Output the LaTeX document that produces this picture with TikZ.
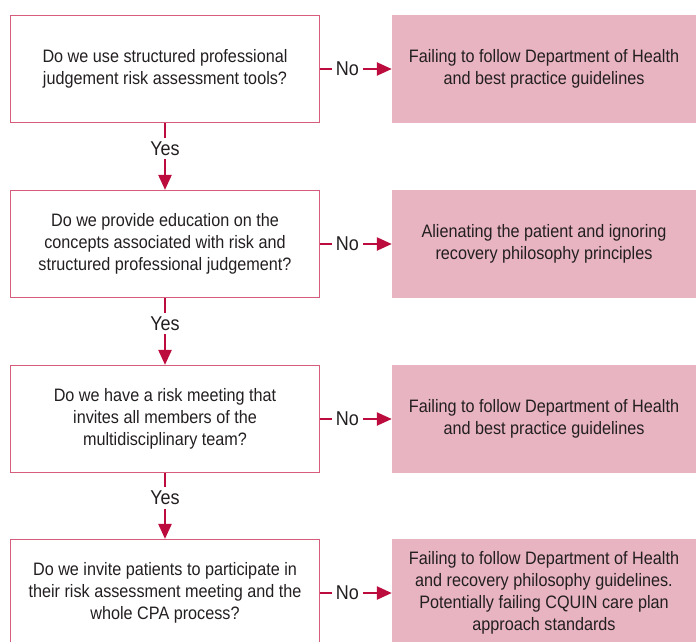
\documentclass[tikz,border=0pt]{standalone}
\usepackage{fontspec}
\setmainfont{Liberation Sans}[FakeStretch=0.9]
\usepackage{tikz}
\usetikzlibrary{arrows.meta}

\definecolor{qline}{RGB}{214,92,124}
\definecolor{arrowred}{RGB}{188,12,62}
\definecolor{outfill}{RGB}{232,180,194}
\definecolor{textgrey}{RGB}{35,31,32}

\begin{document}
\begin{tikzpicture}
[x=1pt,y=-1pt,
 font=\fontsize{18}{22}\selectfont,
 text=textgrey,
 qbox/.style={draw=qline,line width=1.2pt,minimum width=309pt,minimum height=107pt,
   align=center,inner sep=0pt},
 obox/.style={fill=outfill,minimum width=304pt,minimum height=108pt,
   align=center,inner sep=0pt},
 be/.style={draw=arrowred,line width=2.4pt,arrows={-Triangle[length=15pt,width=13pt]}},
 lab/.style={fill=white,inner sep=4pt,pos=0.38,font=\fontsize{20}{22}\selectfont}]
\useasboundingbox (0,0) rectangle (696,641);

\node[qbox] (Q1) at (165,69) {Do we use structured professional\\judgement risk assessment tools?};
\node[qbox] (Q2) at (165,244) {Do we provide education on the\\concepts associated with risk and\\structured professional judgement?};
\node[qbox] (Q3) at (165,419) {Do we have a risk meeting that\\invites all members of the\\multidisciplinary team?};
\node[qbox] (Q4) at (165,593) {Do we invite patients to participate in\\their risk assessment meeting and the\\whole CPA process?};

\node[obox] (O1) at (544,69) {Failing to follow Department of Health\\and best practice guidelines};
\node[obox] (O2) at (544,244) {Alienating the patient and ignoring\\recovery philosophy principles};
\node[obox] (O3) at (544,419) {Failing to follow Department of Health\\and best practice guidelines};
\node[obox] (O4) at (544,593) {Failing to follow Department of Health\\and recovery philosophy guidelines.\\Potentially failing CQUIN care plan\\approach standards};

\foreach \n in {1,2,3,4}
  \draw[be] (Q\n.east) -- node[lab] {No} (O\n.west);

\foreach \a/\b in {1/2,2/3,3/4}
  \draw[be] (Q\a.south) -- node[lab] {Yes} (Q\b.north);

\end{tikzpicture}
\end{document}
